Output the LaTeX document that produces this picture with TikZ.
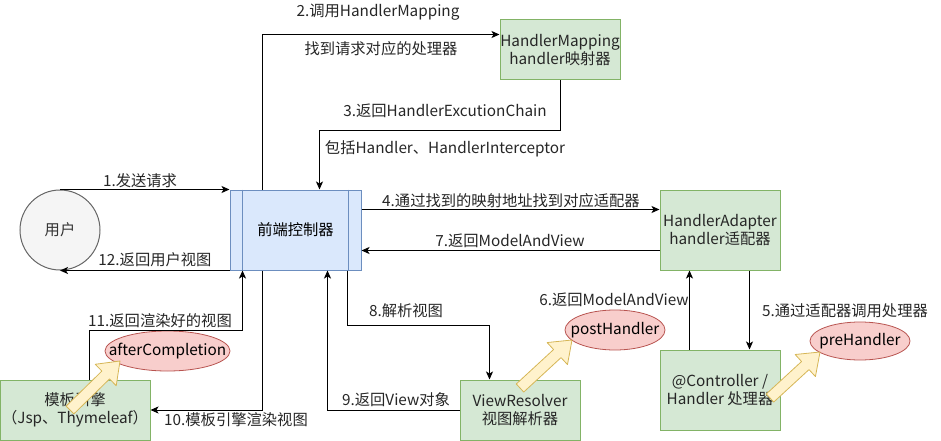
\documentclass[tikz,border=0pt]{standalone}
\usepackage{fontspec}
\setmainfont{Noto Sans CJK SC}
\usetikzlibrary{arrows.meta,calc,shapes.geometric}
\definecolor{userfill}{HTML}{F5F5F5}
\definecolor{userborder}{HTML}{666666}
\definecolor{procfill}{HTML}{DAE8FC}
\definecolor{procborder}{HTML}{6C8EBF}
\definecolor{partfill}{HTML}{D5E8D4}
\definecolor{partborder}{HTML}{82B366}
\definecolor{hookfill}{HTML}{F8CECC}
\definecolor{hookborder}{HTML}{B85450}
\definecolor{hintfill}{HTML}{FFF2CC}
\definecolor{hintborder}{HTML}{D6B656}
\definecolor{darkline}{HTML}{000000}
\newcommand{\diafont}{\fontsize{15.3}{18}\selectfont}
\tikzset{
  box/.style={rectangle, align=center, line width=1pt, font=\diafont, inner sep=0pt},
  actor/.style={circle, fill=userfill, draw=userborder, line width=1pt,
                minimum size=80pt, font=\diafont, text=black!80},
  procbox/.style={box, fill=procfill, draw=procborder, minimum width=131pt, minimum height=80pt},
  partbox/.style={box, fill=partfill, draw=partborder, minimum width=120pt, minimum height=60pt,
                  text=black!85},
  hook/.style={ellipse, fill=hookfill, draw=hookborder, line width=0.8pt, inner sep=0pt,
               font=\diafont},
  hint/.style={fill=hintfill, draw=hintborder, line width=0.8pt, line join=round},
  lbl/.style={font=\diafont, inner sep=0pt, text=black!85},
  flow/.style={-{Stealth[length=8pt,width=7pt,inset=2pt]}, line width=1pt, draw=darkline}
}
% yellow hint arrow: #1 tail, #2 tip
\newcommand{\hintarrow}[2]{%
  \coordinate (hb) at ($(#2)!20pt!(#1)$);
  \filldraw[hint] ($(#1)!5.5pt!90:(#2)$) -- ($(hb)!5.5pt!90:(#2)$) -- ($(hb)!15pt!90:(#2)$)
    -- (#2) -- ($(hb)!15pt!-90:(#2)$) -- ($(hb)!5.5pt!-90:(#2)$) -- ($(#1)!5.5pt!-90:(#2)$) -- cycle;}

\begin{document}
\begin{tikzpicture}[x=1pt, y=-1pt]
\useasboundingbox (0,0) rectangle (941,441);

%% Participants
\node[actor]   (user)       at (60, 230)  {用户};
\node[procbox] (dispatcher) at (295.5, 230) {前端控制器};
\draw[procborder, line width=1pt] ($(dispatcher.north west)+(13,0)$) -- ($(dispatcher.south west)+(13,0)$);
\draw[procborder, line width=1pt] ($(dispatcher.north east)+(-13,0)$) -- ($(dispatcher.south east)+(-13,0)$);
\node[partbox] (mapping)  at (560, 50)  {HandlerMapping\\handler映射器};
\node[partbox, minimum height=80pt] (adapter) at (720, 230) {HandlerAdapter\\handler适配器};
\node[partbox, minimum height=80pt] (handler) at (720, 390) {@Controller /\\Handler 处理器};
\node[partbox] (resolver) at (520, 410) {ViewResolver\\视图解析器};
\node[partbox, minimum width=150pt] (engine) at (75, 410) {模板引擎\\（Jsp、Thymeleaf）};

%% Interceptor hooks
\node[hook, minimum width=125pt, minimum height=40pt] (after) at (167.5, 351) {\makebox[0pt]{afterCompletion}};
\node[hook, minimum width=100pt, minimum height=40pt] (post)  at (615, 330)   {\makebox[0pt]{postHandler}};
\node[hook, minimum width=100pt, minimum height=38pt] (pre)   at (860, 341)   {\makebox[0pt]{preHandler}};

%% Flow
% request and answer
\draw[flow] (user.north) -- (dispatcher.north west);
\draw[flow] (dispatcher.south west) -- (user.south);
% mapping
\draw[flow] ($(dispatcher.north west)+(33,0)$) |- ($(mapping.north west)+(0,15)$);
\draw[flow] (mapping.south) -- ++(0,50) -| ($(dispatcher.north west)+(90,0)$);
% adapter and handler
\draw[flow] ($(dispatcher.north east)+(0,20)$) -- ($(adapter.north west)+(0,20)$);
\draw[flow] ($(adapter.south west)+(0,-20)$) -- ($(dispatcher.south east)+(0,-20)$);
\draw[flow] ($(adapter.south west)+(90,0)$) -- ($(handler.north west)+(90,0)$);
\draw[flow] ($(handler.north west)+(30,0)$) -- ($(adapter.south west)+(30,0)$);
% view resolving
\draw[flow] ($(dispatcher.south east)+(-14,0)$) -- ++(0,55) -| ($(resolver.north west)+(30,0)$);
\draw[flow] (resolver.west) -| ($(dispatcher.south west)+(98,0)$);
% rendering
\draw[flow] ($(dispatcher.south west)+(33,0)$) |- (engine.east);
\draw[flow] ($(engine.north west)+(90,0)$) -- ++(0,-49) -| ($(dispatcher.south west)+(13,0)$);

%% Labels
\node[lbl] (t1)  at (140, 181) {1.发送请求};
\node[lbl] (t12) at (155, 260) {12.返回用户视图};
\node[lbl] (t2)  at (378, 12)  {2.调用HandlerMapping};
\node[lbl] (t2b) at (381, 49)  {找到请求对应的处理器};
\node[lbl] (t3)  at (445, 111) {3.返回HandlerExcutionChain};
\node[lbl] (t3b) at (445, 149) {包括Handler、HandlerInterceptor};
\node[lbl] (t4)  at (511, 201) {4.通过找到的映射地址找到对应适配器};
\node[lbl] (t7)  at (510, 241) {7.返回ModelAndView};
\node[lbl] (t5)  at (845, 311) {5.通过适配器调用处理器};
\node[lbl] (t6)  at (614, 300) {6.返回ModelAndView};
\node[lbl] (t8)  at (406, 311) {8.解析视图};
\node[lbl] (t9)  at (396, 400) {9.返回View对象};
\node[lbl] (t10) at (236, 420) {10.模板引擎渲染视图};
\node[lbl] (t11) at (160, 321) {11.返回渲染好的视图};

%% Hint arrows
\coordinate (engtail) at (70, 410);   \coordinate (engtip) at (120, 361);
\coordinate (restail) at (520, 388);  \coordinate (restip) at (572, 340);
\coordinate (hdltail) at (770, 398);  \coordinate (hdltip) at (820, 352);
\hintarrow{engtail}{engtip}
\hintarrow{restail}{restip}
\hintarrow{hdltail}{hdltip}

\end{tikzpicture}
\end{document}
